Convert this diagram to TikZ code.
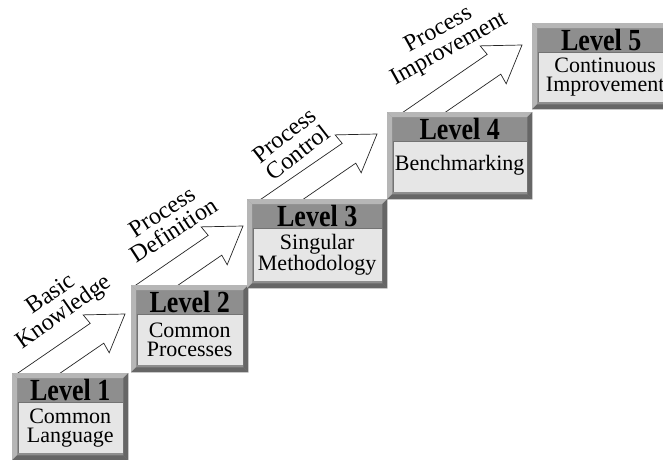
\documentclass[tikz,border=0pt]{standalone}
\usepackage{fontspec}
\setmainfont{Liberation Serif}
\usetikzlibrary{calc,positioning,backgrounds}

\definecolor{framegray}{HTML}{8E8E8E}
\definecolor{bevellight}{HTML}{B6B6B6}
\definecolor{beveldark}{HTML}{666666}
\definecolor{panelgray}{HTML}{E6E6E6}

\tikzset{
	levelbox/.style={rectangle, fill=framegray, inner sep=0pt, anchor=north west},
	panel/.style={fill=panelgray},
	panelline/.style={draw=black!55, line width=0.7pt},
	leveltitle/.style={font=\fontsize{26}{26}\selectfont\bfseries, anchor=base, inner sep=0pt, yscale=1.18, transform shape},
	leveltext/.style={font=\fontsize{22}{19}\selectfont, align=center, inner sep=0pt},
	steplabel/.style={font=\fontsize{24}{22}\selectfont, align=center, inner sep=0pt},
	blockarrow/.style={draw=black!85, fill=white, line width=0.7pt, line join=miter}
}

\begin{document}
\begin{tikzpicture}[x=1pt, y=-1pt]
	\useasboundingbox (0,0) rectangle (663,459);
	\clip (0,0) rectangle (663,459);

	\node[levelbox, minimum width=116pt, minimum height=87pt] (L1) at (12,373) {};
	\node[levelbox, minimum width=117pt, minimum height=87pt] (L2) at (131,285) {};
	\node[levelbox, minimum width=140pt, minimum height=89pt] (L3) at (247,199) {};
	\node[levelbox, minimum width=145pt, minimum height=87pt] (L4) at (387,112) {};
	\node[levelbox, minimum width=138pt, minimum height=86pt] (L5) at (532,23) {};

	\foreach \i in {1,...,5} {
		\fill[bevellight] (L\i.north west) -- (L\i.north east) -- ($(L\i.north east)+(-5,5)$) -- ($(L\i.north west)+(5,5)$) -- cycle;
		\fill[bevellight] (L\i.north west) -- ($(L\i.north west)+(5,5)$) -- ($(L\i.south west)+(5,-5)$) -- (L\i.south west) -- cycle;
		\fill[beveldark] (L\i.north east) -- (L\i.south east) -- ($(L\i.south east)+(-5,-5)$) -- ($(L\i.north east)+(-5,5)$) -- cycle;
		\fill[beveldark] (L\i.south west) -- (L\i.south east) -- ($(L\i.south east)+(-5,-5)$) -- ($(L\i.south west)+(5,-5)$) -- cycle;
		\fill[panel] ($(L\i.north west)+(6,29)$) rectangle ($(L\i.south east)+(-5,-7)$);
		\draw[panelline] ($(L\i.south west)+(6,-7)$) |- ($(L\i.north east)+(-5,29)$);
		\node[leveltitle] (T\i) at ($(L\i.north)+(0,27.5)$) {Level \i};
	}

	\node[leveltext] (C1) at ($(L1.center)+(0,11)$) {Common\\Language};
	\node[leveltext] (C2) at ($(L2.center)+(0,11)$) {Common\\Processes};
	\node[leveltext] (C3) at ($(L3.center)+(0,11)$) {Singular\\Methodology};
	\node[leveltext] (C4) at ($(L4.center)+(0,10)$) {Benchmarking};
	\node[leveltext] (C5) at ($(L5.center)+(4,11)$) {Continuous\\Improvement};

	\begin{scope}[on background layer]
		\foreach \i/\j/\dx/\dy in {1/2/-6/29, 2/3/-4/27, 3/4/-10/22, 4/5/-10/22} {
			\coordinate (tip\i) at ($(L\j.north west)+(\dx,\dy)$);
			\begin{scope}
				\clip (0,0) rectangle ($(L\i.north west)+(700,0)$);
				\path[blockarrow, shift={(tip\i)}, rotate=34.5] (0,0) -- (-35,-23) -- (-34,-12) -- (-200,-12) -- (-200,12) -- (-34,12) -- (-35,23) -- cycle;
			\end{scope}
		}
	\end{scope}

	\node[steplabel, rotate=35] (S1) at (58,304) {Basic\\Knowledge};
	\node[steplabel, rotate=33] (S2) at (168,221) {Process\\Definition};
	\node[steplabel, rotate=38] (S3) at (291,144) {Process\\Control};
	\node[steplabel, rotate=29] (S4) at (444,40) {Process\\Improvement};
\end{tikzpicture}
\end{document}
